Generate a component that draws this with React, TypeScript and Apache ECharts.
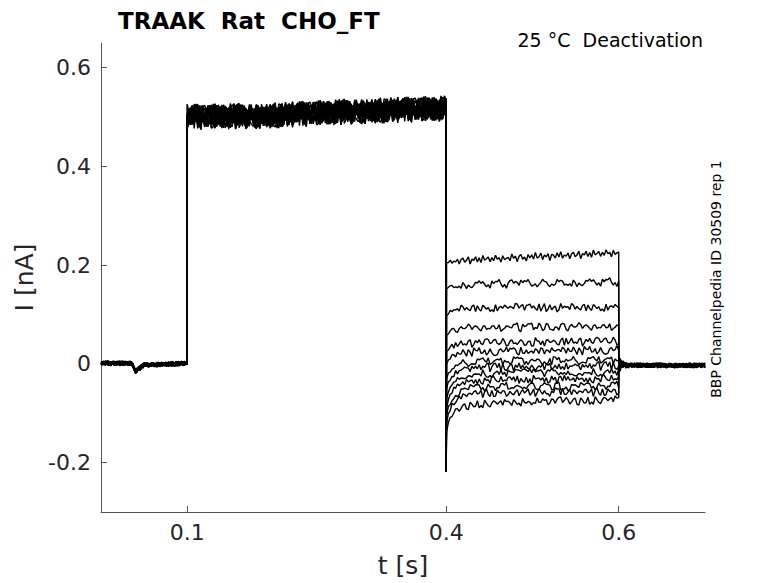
import React, { useEffect, useRef } from "react";
import * as echarts from "echarts";

// ---- tick labels ----
const xTicks = [0.1, 0.4, 0.6];
const yTicks = [-0.2, 0, 0.2, 0.4, 0.6];

// ---- protocol times (s) ----
const tPulseOn = 0.1;
const tStep = 0.4;
const tOff = 0.6;
const tEnd = 0.7;

// ---- baseline before the pulse (small dip near 0.04 s) ----
const baseTimes = [0, 0.036, 0.04, 0.044, 0.05, 0.1];
const baseValues = [0.001, 0.001, -0.015, -0.01, -0.002, 0.001];

// ---- activating pulse 0.1–0.4 s (nA) ----
const pulseTimes = [0.1, 0.2, 0.3, 0.4];
const pulseLevels = [0.5, 0.503, 0.512, 0.517];
const spikeMin = -0.218;

// ---- deactivation steps 0.4–0.6 s, one entry per sweep (nA) ----
const stepStartValues = [0.205, 0.152, 0.098, 0.058, 0.025, 0.0, -0.03, -0.05, -0.07, -0.09, -0.105, -0.12, -0.137];
const stepLevelsEarly = [0.208, 0.16, 0.113, 0.073, 0.042, 0.024, 0.004, -0.008, -0.02, -0.034, -0.048, -0.06, -0.083];
const stepLevelsLate = [0.225, 0.166, 0.115, 0.076, 0.046, 0.028, 0.008, -0.004, -0.016, -0.03, -0.044, -0.056, -0.072];
const recoveryTimes = [0.4005, 0.403, 0.407, 0.412, 0.418, 0.425, 0.435];
const recoveryFrac = [0, 0.35, 0.6, 0.78, 0.9, 0.96, 1];

// ---- tail after 0.6 s ----
const tailStartValues = [-0.014, -0.012, -0.01, -0.008, -0.005, -0.003, 0.0, 0.004, 0.006, 0.008, 0.01, 0.012, 0.014];
const tailTimes = [0.6, 0.604, 0.61, 0.7];
const tailFrac = [0, 0.6, 1, 1];
const tailLevel = -0.003;

// ---- hand-read ripple pattern (relative units) ----
const ripple = [0.2, -0.6, 0.9, -0.1, 0.4, -0.9, 0.3, 0.7, -0.4, 0.1, -0.8, 0.6, -0.2, 0.5, -0.5, 1.0, -0.3, 0.0, 0.8, -0.7, 0.3, -0.1, 0.6, -1.0, 0.4, 0.2, -0.5, 0.7, -0.3, 0.9, -0.6, 0.1, -0.2, 0.5, -0.8, 0.3, 0.6, -0.4, 0.0, 0.8, -0.9, 0.2, -0.1, 0.7, -0.5, 0.4, -0.7, 0.9, -0.2, 0.1, 0.5, -0.6, 0.3, -0.4, 0.8, -0.1, 0.2, -0.8, 0.6, -0.3, 0.0];
const rippleAmpBase = 0.005;
const rippleAmpPulse = 0.026;
const rippleAmpStep = 0.009;

function lerp(xs: number[], ys: number[], x: number): number {
  if (x <= xs[0]) return ys[0];
  for (let i = 1; i < xs.length; i++) {
    if (x <= xs[i]) {
      const f = (x - xs[i - 1]) / (xs[i] - xs[i - 1]);
      return ys[i - 1] + f * (ys[i] - ys[i - 1]);
    }
  }
  return ys[ys.length - 1];
}

function buildTrace(i: number): number[][] {
  const pts: number[][] = [];
  let k = i * 7;
  const stride = 1 + i;
  const rp = (amp: number) => amp * ripple[((k++) * stride + i * 11) % ripple.length];
  // baseline
  const nBase = 60;
  for (let j = 0; j < nBase; j++) {
    const t = (j * tPulseOn) / nBase;
    pts.push([t, lerp(baseTimes, baseValues, t) + rp(rippleAmpBase)]);
  }
  pts.push([tPulseOn, 0]);
  // pulse
  const nPulse = 150;
  for (let j = 0; j <= nPulse; j++) {
    const t = tPulseOn + (j * (tStep - tPulseOn)) / nPulse;
    pts.push([t, lerp(pulseTimes, pulseLevels, t) + rp(rippleAmpPulse)]);
  }
  // spike at step onset
  pts.push([tStep, spikeMin]);
  pts.push([recoveryTimes[0], stepStartValues[i]]);
  // deactivation step
  const nStep = 95;
  for (let j = 1; j <= nStep; j++) {
    const t = recoveryTimes[0] + (j * (tOff - recoveryTimes[0])) / nStep;
    const lvl = stepLevelsEarly[i] + ((t - tStep) / (tOff - tStep)) * (stepLevelsLate[i] - stepLevelsEarly[i]);
    const fr = lerp(recoveryTimes, recoveryFrac, t);
    const v = stepStartValues[i] + fr * (lvl - stepStartValues[i]);
    pts.push([t, v + rp(rippleAmpStep * fr)]);
  }
  // tail
  pts.push([tOff, tailStartValues[i]]);
  const nTail = 60;
  for (let j = 1; j <= nTail; j++) {
    const t = tOff + (j * (tEnd - tOff)) / nTail;
    const fr = lerp(tailTimes, tailFrac, t);
    pts.push([t, tailStartValues[i] + fr * (tailLevel - tailStartValues[i]) + rp(rippleAmpBase)]);
  }
  return pts;
}

const FONT = "DejaVu Sans";

export default function App() {
  const ref = useRef<HTMLDivElement>(null);
  useEffect(() => {
    if (!ref.current) return;
    const chart = echarts.init(ref.current, null, { renderer: "svg" });
    const series = stepLevelsEarly.map((_, i) => ({
      type: "line",
      data: buildTrace(i),
      showSymbol: false,
      symbol: "none",
      silent: true,
      lineStyle: { color: "#000", width: 1.4 },
    }));
    chart.setOption({
      animation: false,
      backgroundColor: "#fff",
      title: {
        text: "TRAAK  Rat  CHO_FT",
        left: 113,
        top: 4,
        textStyle: { fontFamily: FONT, fontSize: 23, fontWeight: "bold", color: "#000" },
      },
      grid: { left: 101, right: 73, top: 43, bottom: 71, containLabel: false },
      xAxis: {
        type: "value",
        min: 0,
        max: tEnd,
        name: "t [s]",
        nameLocation: "middle",
        nameGap: 41,
        nameTextStyle: { fontFamily: FONT, fontSize: 25, color: "#262626" },
        axisLine: { show: true, onZero: false, lineStyle: { color: "#555", width: 1 } },
        axisTick: { show: true, inside: true, length: 6, customValues: xTicks, lineStyle: { color: "#555" } },
        axisLabel: {
          customValues: xTicks,
          formatter: (v: number) => v.toFixed(1),
          fontFamily: FONT,
          fontSize: 22,
          color: "#262626",
          margin: 9,
        },
        splitLine: { show: false },
      },
      yAxis: {
        type: "value",
        min: -0.3,
        max: 0.65,
        name: "I [nA]",
        nameLocation: "middle",
        nameGap: 57,
        nameRotate: 90,
        nameTextStyle: { fontFamily: FONT, fontSize: 25, color: "#262626" },
        axisLine: { show: true, onZero: false, lineStyle: { color: "#555", width: 1 } },
        axisTick: { show: true, inside: true, length: 6, customValues: yTicks, lineStyle: { color: "#555" } },
        axisLabel: {
          customValues: yTicks,
          formatter: (v: number) => (Math.abs(v) < 1e-9 ? "0" : v.toFixed(1)),
          fontFamily: FONT,
          fontSize: 22,
          color: "#262626",
          margin: 10,
        },
        splitLine: { show: false },
      },
      graphic: [
        {
          type: "text",
          right: 75,
          top: 30,
          style: { text: "25 °C  Deactivation", fontFamily: FONT, fontSize: 19, fill: "#000" },
        },
        {
          type: "text",
          x: 716,
          y: 279,
          rotation: Math.PI / 2,
          style: {
            text: "BBP Channelpedia ID 30509 rep 1",
            fontFamily: FONT,
            fontSize: 14,
            fill: "#000",
            textAlign: "center",
            textVerticalAlign: "middle",
          },
        },
      ],
      series,
    });
    return () => chart.dispose();
  }, []);
  return <div ref={ref} style={{ position: "absolute", left: 0, top: 0, width: 778, height: 583 }} />;
}
